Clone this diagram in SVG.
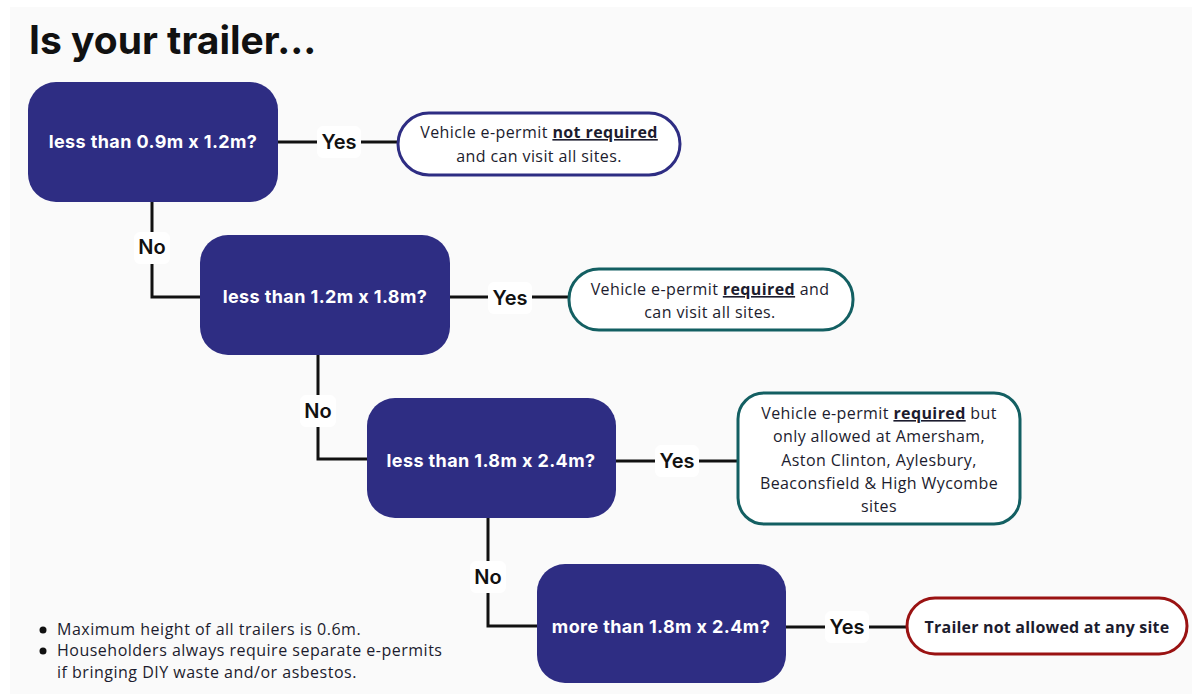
<svg xmlns="http://www.w3.org/2000/svg" width="1192" height="694" viewBox="0 0 1192 694">
<style>
.q{fill:#2e2d83}
.qt{fill:#fff;font-family:Inter,"Open Sans",sans-serif;font-weight:700;font-size:18px;letter-spacing:0.4px;text-anchor:middle}
.o{fill:#fff;stroke-width:3}
.ot{fill:#1c1c2e;font-family:"Open Sans","Noto Sans",sans-serif;font-size:16px;letter-spacing:0.4px;text-anchor:middle}
.b{font-weight:700;text-decoration:underline}
.ln{stroke:#111;stroke-width:3;fill:none}
.lb{fill:#fff}
.lt{fill:#111;font-family:Inter,"Open Sans",sans-serif;font-weight:600;font-size:20px;text-anchor:middle}
.nt{fill:#1c1c2e;font-family:"Open Sans","Noto Sans",sans-serif;font-size:16px;letter-spacing:0.5px}
</style>
<rect x="0" y="0" width="1192" height="694" fill="#fff"/>
<rect x="10" y="7" width="1182" height="687" fill="#fafafa"/>
<text x="29" y="54" font-family="Inter,'Open Sans',sans-serif" font-weight="700" font-size="39" fill="#111">Is your trailer...</text>
<g id="connectors">
<path class="ln" d="M278,142H398"/>
<path class="ln" d="M152,202V297H200"/>
<path class="ln" d="M450,297H568"/>
<path class="ln" d="M318,355V459H367"/>
<path class="ln" d="M616,461H737"/>
<path class="ln" d="M488,518V626H537"/>
<path class="ln" d="M786,627H907"/>
<rect class="lb" x="317" y="126" width="44" height="32" rx="6"/>
<text class="lt" x="339" y="149">Yes</text>
<rect class="lb" x="134" y="232" width="36" height="32" rx="6"/>
<text class="lt" x="152" y="254">No</text>
<rect class="lb" x="488" y="282" width="44" height="32" rx="6"/>
<text class="lt" x="510" y="305">Yes</text>
<rect class="lb" x="300" y="395" width="36" height="32" rx="6"/>
<text class="lt" x="318" y="418">No</text>
<rect class="lb" x="655" y="445" width="44" height="32" rx="6"/>
<text class="lt" x="677" y="468">Yes</text>
<rect class="lb" x="470" y="561" width="36" height="32" rx="6"/>
<text class="lt" x="488" y="584">No</text>
<rect class="lb" x="825" y="611" width="44" height="32" rx="6"/>
<text class="lt" x="847" y="634">Yes</text>
</g>
<g id="q1"><rect class="q" x="28" y="82" width="250" height="120" rx="28"/><text class="qt" x="153" y="148">less than 0.9m x 1.2m?</text></g>
<g id="q2"><rect class="q" x="200" y="235" width="250" height="120" rx="28"/><text class="qt" x="325" y="303">less than 1.2m x 1.8m?</text></g>
<g id="q3"><rect class="q" x="367" y="398" width="249" height="120" rx="28"/><text class="qt" x="491" y="467">less than 1.8m x 2.4m?</text></g>
<g id="q4"><rect class="q" x="537" y="564" width="249" height="119" rx="28"/><text class="qt" x="661" y="633">more than 1.8m x 2.4m?</text></g>
<g id="o1"><rect class="o" x="398" y="113" width="282" height="62" rx="31" stroke="#2e2d83"/>
<text class="ot" x="539" y="138">Vehicle e-permit <tspan class="b">not required</tspan></text>
<text class="ot" x="539" y="162">and can visit all sites.</text></g>
<g id="o2"><rect class="o" x="569" y="269" width="284" height="61" rx="30" stroke="#135f62"/>
<text class="ot" x="710" y="295">Vehicle e-permit <tspan class="b">required</tspan> and</text>
<text class="ot" x="710" y="318">can visit all sites.</text></g>
<g id="o3"><rect class="o" x="738" y="393" width="282" height="131" rx="26" stroke="#135f62"/>
<text class="ot" x="879" y="419">Vehicle e-permit <tspan class="b">required</tspan> but</text>
<text class="ot" x="879" y="442">only allowed at Amersham,</text>
<text class="ot" x="879" y="466">Aston Clinton, Aylesbury,</text>
<text class="ot" x="879" y="489">Beaconsfield &amp; High Wycombe</text>
<text class="ot" x="879" y="512">sites</text></g>
<g id="o4"><rect class="o" x="907" y="598" width="280" height="56" rx="28" stroke="#9a1212"/>
<text class="ot" x="1047" y="633" font-weight="700" style="letter-spacing:0.2px">Trailer not allowed at any site</text></g>
<g id="notes">
<circle cx="43" cy="630" r="3.5" fill="#111"/>
<circle cx="43" cy="651" r="3.5" fill="#111"/>
<text class="nt" x="57" y="635">Maximum height of all trailers is 0.6m.</text>
<text class="nt" x="57" y="656">Householders always require separate e-permits</text>
<text class="nt" x="57" y="678">if bringing DIY waste and/or asbestos.</text>
</g>
</svg>
